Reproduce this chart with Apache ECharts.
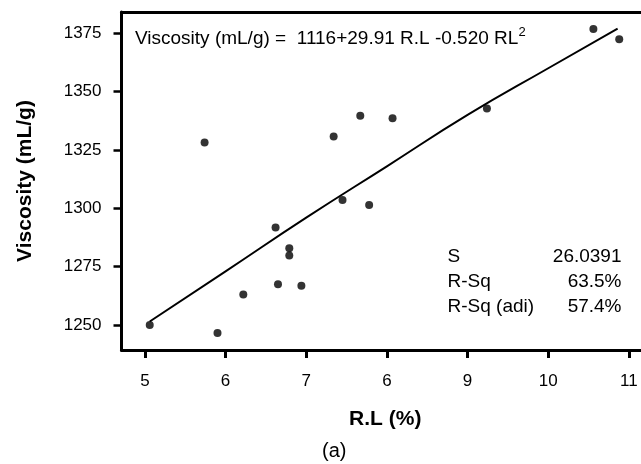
<!DOCTYPE html>
<html>
<head>
<meta charset="utf-8">
<script src="https://cdn.jsdelivr.net/npm/echarts@6/dist/echarts.min.js"></script>
<style>
  html, body { margin: 0; padding: 0; background: #fff; }
  #main { width: 641px; height: 464px; }
</style>
</head>
<body>
<div id="main"></div>
<script>
// measured points (R.L %, viscosity mL/g)
const rlValues = [5.06, 5.74, 5.90, 6.22, 6.62, 6.65, 6.79, 6.79, 6.94, 7.34, 7.45, 7.67, 7.78, 8.07, 9.24, 10.56, 10.88];
const viscosityValues = [1250.0, 1328.2, 1246.6, 1263.1, 1291.8, 1267.5, 1282.9, 1279.8, 1266.8, 1330.8, 1303.6, 1339.7, 1301.4, 1338.6, 1342.8, 1376.8, 1372.4];

// fitted curve
const fitRl = [5.06, 6, 7, 8, 9, 10, 10.86];
const fitViscosity = [1251.5, 1273, 1296, 1318, 1340, 1360, 1377];

const xTicks = [5, 6, 7, 8, 9, 10, 11];
const xTickLabels = ['5', '6', '7', '6', '9', '10', '11'];
const yTicks = [1250, 1275, 1300, 1325, 1350, 1375];

const statNames = ['S', 'R-Sq', 'R-Sq (adi)'];
const statValues = ['26.0391', '63.5%', '57.4%'];

const FONT = 'Liberation Sans, Arial, Helvetica, sans-serif';

const chart = echarts.init(document.getElementById('main'), null, { renderer: 'canvas' });

const statTexts = [];
statNames.forEach((name, i) => {
  statTexts.push({
    type: 'text', left: 447.5, top: 257 + i * 25 - 10,
    style: { text: name, font: '19px ' + FONT, fill: '#000' }
  });
  statTexts.push({
    type: 'text', right: 641 - 621.5, top: 257 + i * 25 - 10,
    style: { text: statValues[i], font: '19px ' + FONT, fill: '#000', align: 'right' }
  });
});

const option = {
  animation: false,
  backgroundColor: '#fff',
  grid: { left: 121.5, right: 0, top: 12, bottom: 114 },
  xAxis: [
    {
      type: 'value', min: 4.71, max: 11.15,
      position: 'bottom',
      name: 'R.L (%)', nameLocation: 'middle', nameGap: 59,
      nameTextStyle: { fontFamily: FONT, fontSize: 21, fontWeight: 'bold', color: '#000', padding: [0, 0, 0, 8] },
      axisLine: { show: true, onZero: false, lineStyle: { color: '#000', width: 3 } },
      axisTick: { show: true, customValues: xTicks, length: 8, lineStyle: { color: '#000', width: 3 } },
      axisLabel: {
        customValues: xTicks, margin: 23, fontFamily: FONT, fontSize: 17, color: '#000',
        formatter: v => xTickLabels[xTicks.indexOf(Math.round(v))]
      },
      splitLine: { show: false }
    },
    {
      type: 'value', min: 4.71, max: 11.15, position: 'top',
      axisLine: { show: true, onZero: false, lineStyle: { color: '#000', width: 3 } },
      axisTick: { show: false }, axisLabel: { show: false }, splitLine: { show: false }
    }
  ],
  yAxis: {
    type: 'value', min: 1239.3, max: 1384.1,
    name: 'Viscosity (mL/g)', nameLocation: 'middle', nameGap: 86, nameRotate: 90,
    nameTextStyle: { fontFamily: FONT, fontSize: 21, fontWeight: 'bold', color: '#000' },
    axisLine: { show: true, onZero: false, lineStyle: { color: '#000', width: 3 } },
    axisTick: { show: true, customValues: yTicks, length: 8, lineStyle: { color: '#000', width: 2.5 } },
    axisLabel: {
      customValues: yTicks, margin: 20, fontFamily: FONT, fontSize: 17, color: '#000',
      formatter: v => String(Math.round(v))
    },
    splitLine: { show: false }
  },
  series: [
    {
      type: 'line', xAxisIndex: 0,
      data: fitRl.map((x, i) => [x, fitViscosity[i]]),
      smooth: true, symbol: 'none',
      lineStyle: { color: '#000', width: 2 }
    },
    {
      type: 'scatter', xAxisIndex: 0,
      data: rlValues.map((x, i) => [x, viscosityValues[i]]),
      symbol: 'circle', symbolSize: 8,
      itemStyle: { color: '#000' }
    }
  ],
  graphic: [
    {
      type: 'text', left: 135, top: 26,
      style: {
        text: '{m|Viscosity (mL/g) =  1116+29.91 R.L -0.520 RL}{s|2}',
        rich: {
          m: { fontFamily: FONT, fontSize: 19, color: '#000', lineHeight: 22, verticalAlign: 'bottom' },
          s: { fontFamily: FONT, fontSize: 13, color: '#000', lineHeight: 13, verticalAlign: 'top' }
        }
      }
    },
    ...statTexts,
    {
      type: 'text', left: 322, top: 441,
      style: { text: '(a)', font: '20px ' + FONT, fill: '#000' }
    }
  ]
};

chart.setOption(option);
</script>
</body>
</html>
